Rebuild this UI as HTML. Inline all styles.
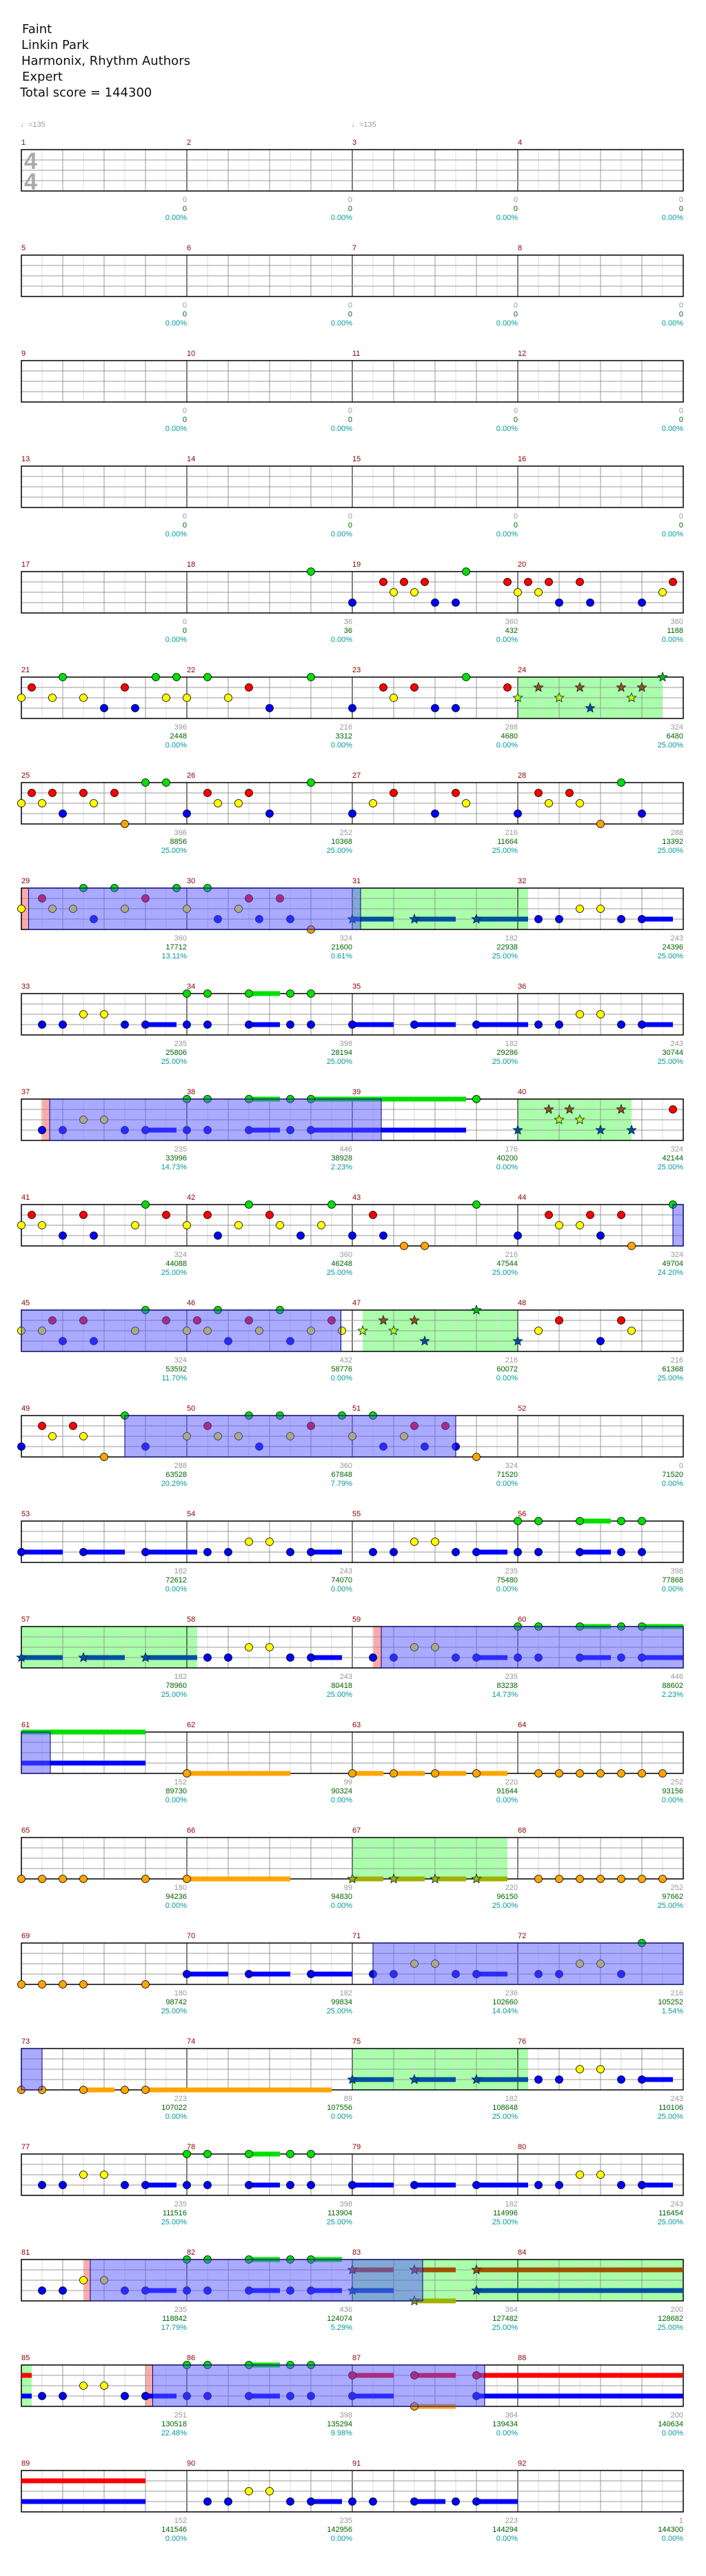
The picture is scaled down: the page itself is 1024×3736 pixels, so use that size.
<!DOCTYPE html>
<html><head><meta charset="utf-8"><style>
html,body{margin:0;padding:0;background:#fff}
svg{display:block}
text{font-family:"Liberation Sans",sans-serif}
.t{font-size:18px;fill:#111;font-family:"DejaVu Sans",sans-serif}
.m{font-size:11px;fill:#8b0000}
.a{font-size:11px;fill:#999;text-anchor:end}
.c{font-size:11px;fill:#006400;text-anchor:end}
.d{font-size:11px;fill:#009999;text-anchor:end}
.tp{font-size:11px;fill:#999}
</style></head><body>
<svg id="s" xmlns="http://www.w3.org/2000/svg" width="1024" height="3736" viewBox="0 0 1024 3736">
<rect width="1024" height="3736" fill="#fff"/>
<g id="shapes"></g>
<text class="t" x="32" y="48">Faint</text>
<text class="t" x="31" y="71">Linkin Park</text>
<text class="t" x="31" y="94">Harmonix, Rhythm Authors</text>
<text class="t" x="32" y="117">Expert</text>
<text class="t" x="29" y="140">Total score = 144300</text>
<text class="tp" x="30" y="184">♩=135</text>
<text class="tp" x="510" y="184">♩=135</text>
<text x="35" y="245" style="font-size:34px;font-weight:bold;fill:#aaa">4</text>
<text x="35" y="275" style="font-size:34px;font-weight:bold;fill:#aaa">4</text>
</svg>
<script>
(function(){
var NS="http://www.w3.org/2000/svg";
var G=document.getElementById('shapes');
function el(t,a,p){var e=document.createElementNS(NS,t);for(var k in a)e.setAttribute(k,a[k]);(p||G).appendChild(e);return e;}
var LANE={g:0,r:1,y:2,b:3,o:4};
var COL={g:'#00e000',r:'#ff0000',y:'#ffff00',b:'#0000ff',o:'#ffa500'};
var SCOL={g:'#00c000',r:'#a05000',y:'#c0ff00',b:'#0050a0',o:'#a0b000'};
var E="b1 b2 b5 b6-7.5 b8 b9 b11-12.5 b13 b14 b16-18 b19-21 b22-24.5 b25 b26 b29 b30-31.5 y3 y4 y27 y28 g8 g9 g11-12.5 g13 g14";
var R=[
["",""],["",""],["",""],["",""],
["","g14 g21.5 r17.5 r18.5 r19.5 r23.5 r24.5 r25.5 r27 r31.5 y18 y19 y24 y25 y31 b16 b20 b21 b26 b27.5 b30"],
["g24-31","g2 g6.5 g7.5 g9 g14 g21.5 *g31 r0.5 r5 r11 r17.5 r19 r23.5 *r25 *r27 *r29 *r30 y0 y1.5 y3 y7 y8 y10 y18 *y24 *y26 *y29.5 b4 b5.5 b12 b16 b20 b21 *b27.5"],
["","g6 g7 g14 g29 r0.5 r1.5 r3 r4.5 r9 r11 r18 r21 r25 r26.5 y0 y1 y3.5 y9.5 y10.5 y17 y21.5 y25.5 y27 b2 b8 b12 b16 b20 b24 b30 o5 o28"],
["p0-0.35 b0.35-16.4 g16-24.5","g3 g4.5 g7.5 g9 r1 r6 r11 r12.5 y0 y1.5 y2.5 y5 y8 y10.5 b3.5 b9.5 b11.5 b13 o14 *b16-18 *b19-21 *b22-24.5 b25 b26 b29 b30-31.5 y27 y28"],
["",E],
["p0.96-1.37 b1.37-17.4 g24-29.5","b1 b2 b5 b6-7.5 b8 b9 b11-12.5 b13 b14-21.5 y3 y4 g8 g9 g11-12.5 g13 g14-21.5 g22 *r25.5 *r26.5 *r29 *y26 *y27 *b24 *b28 *b29.5 r31.5"],
["b31.5-32","g6 g11 g15 g22 g31.5 r0.5 r3 r7 r9 r12 r17 r25.5 r27.5 r29 y0 y1 y5.5 y8 y10.5 y12.5 y14.5 y26 y27 b2 b3.5 b9.5 b13.5 b16 b17.5 b24 b28 o18.5 o19.5 o29.5"],
["b0-15.45 g16.5-24","g6 g9.5 g12.5 r1.5 r3 r7 r8.5 r11 r15 y0 y1 y5.5 y8 y9 y11.5 y14 y15.5 b2 b3.5 b10 b13 *y16.5 *y18 *r17.5 *r19 *b19.5 *b24 *g22 y25 y29.5 r26 r29 b28"],
["b5-21","g5 g11 g12.5 g15.5 g17 r1 r2.5 r9 r14 r19 r20.5 y1.5 y3 y8 y9.5 y10.5 y13 y16 y18.5 b0 b6 b11.5 b17.5 b19.5 b21 o4 o22"],
["","b0-2 b3-5 b6-8.5 b9 b10 b13 b14-15.5 b17 b18 b21 b22-23.5 b24 b25 b27-28.5 b29 b30 y11 y12 y19 y20 g24 g25 g27-28.5 g29 g30"],
["g0-8.5 p17-17.4 b17.4-32","*b0-2 *b3-5 *b6-8.5 b9 b10 b13 b14-15.5 y11 y12 b17 b18 b21 b22-23.5 b24 b25 b27-28.5 b29 b30-32 y19 y20 g24 g25 g27-28.5 g29 g30-32"],
["b0-1.4","~g0-6 ~b0-6 o8-13 o16-17.5 o18-19.5 o20-21.5 o22-23.5 o25 o26 o27 o28 o29 o30 o31"],
["g16-23.5","o0 o1 o2 o3 o6 o8-13 *o16-17.5 *o18-19.5 *o20-21.5 *o22-23.5 o25 o26 o27 o28 o29 o30 o31"],
["b17-32","o0 o1 o2 o3 o6 b8-10 b11-13 b14-16 b17 b18 b21 b22-23.5 b25 b26 b29 y19 y20 y27 y28 g30"],
["b0-1 g16-24.5","o0 o1 o3-4.5 o5 o6-15 *b16-18 *b19-21 *b22-24.5 b25 b26 b29 b30-31.5 y27 y28"],
["",E],
["p3-3.33 g16-32 b3.33-19.4","b1 b2 b5 b6-7.5 b8 b9 b11-12.5 b13 b14-15.5 y3 y4 g8 g9 g11-12.5 g13 g14-15.5 *r16-18 *r19-21 *r22-32 *b16-18 *b22-32 *o19-21"],
["g0-0.5 p6-6.35 b6.35-22.4","~r0-0.5 ~b0-0.5 b1 b2 b5 b6-7.5 b8 b9 b11-12.5 b13 b14 b16-18 b22-32 y3 y4 g8 g9 g11-12.5 g13 g14 r16-18 r19-21 r22-32 o19-21"],
["","~r0-6 ~b0-6 b9 b10 b13 b14-15.5 b16 b17 b19-20.5 b21 b22-24 y11 y12"]
];
function X(p){return 31+30*p;}
function star(cx,cy,fill){var pts=[];for(var i=0;i<10;i++){var r=i%2?3:7,a=-Math.PI/2+i*Math.PI/5;pts.push((cx+r*Math.cos(a)).toFixed(1)+','+(cy+r*Math.sin(a)).toFixed(1));}
el('polygon',{points:pts.join(' '),fill:fill,stroke:'#024',"stroke-width":0.8});}
for(var i=0;i<R.length;i++){
 var T=217+153*i;var ov=R[i][0]?R[i][0].split(' '):[];
 var blues=[];
 ov.forEach(function(o){var t=o[0],r=o.slice(1).split('-'),a=+r[0],b=+r[1];
  if(t=='b'){blues.push([a,b]);return;}
  el('rect',{x:X(a),y:T,width:30*(b-a),height:60,fill:t=='g'?'#aaffaa':'#ffaaaa'});});
 for(var e=1;e<32;e++){var c=e%8==0?'#000':(e%2==0?'#999':'#ddd');
  el('line',{x1:X(e),y1:T,x2:X(e),y2:T+60,stroke:c,"stroke-width":1});}
 for(var k=1;k<4;k++)el('line',{x1:31,y1:T+15*k,x2:991,y2:T+15*k,stroke:'#999',"stroke-width":1});
 el('rect',{x:31,y:T,width:960,height:60,fill:'none',stroke:'#000',"stroke-width":1.5});
 var ns=R[i][1]?R[i][1].split(' '):[];
 ns.forEach(function(n){var st=n[0]=='*',nh=n[0]=='~';if(st||nh)n=n.slice(1);var l=n[0],r=n.slice(1).split('-');
  if(r.length>1){var y=T+15*LANE[l];el('rect',{x:X(+r[0]),y:y-3.5,width:30*(r[1]-r[0]),height:7,fill:st?SCOL[l]:COL[l]});}});
 ns.forEach(function(n){var st=n[0]=='*',nh=n[0]=='~';if(nh)return;if(st)n=n.slice(1);var l=n[0],r=n.slice(1).split('-');
  var cx=X(+r[0]),cy=T+15*LANE[l];
  if(st)star(cx,cy,SCOL[l]);else el('circle',{cx:cx,cy:cy,r:5.5,fill:COL[l],stroke:'#000',"stroke-width":0.8});});
 blues.forEach(function(bb){el('rect',{x:X(bb[0]),y:T,width:30*(bb[1]-bb[0]),height:60,fill:'rgba(85,85,255,0.5)',stroke:'#000080',"stroke-width":1});});
}
})();
</script>
<svg xmlns="http://www.w3.org/2000/svg" width="1024" height="3736" style="position:absolute;left:0;top:0">
<g transform="translate(0,217)"><text class="m" x="31" y="-7">1</text><text class="m" x="271" y="-7">2</text><text class="m" x="511" y="-7">3</text><text class="m" x="751" y="-7">4</text>
<text class="a" x="271" y="76">0</text><text class="c" x="271" y="89">0</text><text class="d" x="271" y="102">0.00%</text><text class="a" x="511" y="76">0</text><text class="c" x="511" y="89">0</text><text class="d" x="511" y="102">0.00%</text><text class="a" x="751" y="76">0</text><text class="c" x="751" y="89">0</text><text class="d" x="751" y="102">0.00%</text><text class="a" x="991" y="76">0</text><text class="c" x="991" y="89">0</text><text class="d" x="991" y="102">0.00%</text></g>
<g transform="translate(0,370)"><text class="m" x="31" y="-7">5</text><text class="m" x="271" y="-7">6</text><text class="m" x="511" y="-7">7</text><text class="m" x="751" y="-7">8</text>
<text class="a" x="271" y="76">0</text><text class="c" x="271" y="89">0</text><text class="d" x="271" y="102">0.00%</text><text class="a" x="511" y="76">0</text><text class="c" x="511" y="89">0</text><text class="d" x="511" y="102">0.00%</text><text class="a" x="751" y="76">0</text><text class="c" x="751" y="89">0</text><text class="d" x="751" y="102">0.00%</text><text class="a" x="991" y="76">0</text><text class="c" x="991" y="89">0</text><text class="d" x="991" y="102">0.00%</text></g>
<g transform="translate(0,523)"><text class="m" x="31" y="-7">9</text><text class="m" x="271" y="-7">10</text><text class="m" x="511" y="-7">11</text><text class="m" x="751" y="-7">12</text>
<text class="a" x="271" y="76">0</text><text class="c" x="271" y="89">0</text><text class="d" x="271" y="102">0.00%</text><text class="a" x="511" y="76">0</text><text class="c" x="511" y="89">0</text><text class="d" x="511" y="102">0.00%</text><text class="a" x="751" y="76">0</text><text class="c" x="751" y="89">0</text><text class="d" x="751" y="102">0.00%</text><text class="a" x="991" y="76">0</text><text class="c" x="991" y="89">0</text><text class="d" x="991" y="102">0.00%</text></g>
<g transform="translate(0,676)"><text class="m" x="31" y="-7">13</text><text class="m" x="271" y="-7">14</text><text class="m" x="511" y="-7">15</text><text class="m" x="751" y="-7">16</text>
<text class="a" x="271" y="76">0</text><text class="c" x="271" y="89">0</text><text class="d" x="271" y="102">0.00%</text><text class="a" x="511" y="76">0</text><text class="c" x="511" y="89">0</text><text class="d" x="511" y="102">0.00%</text><text class="a" x="751" y="76">0</text><text class="c" x="751" y="89">0</text><text class="d" x="751" y="102">0.00%</text><text class="a" x="991" y="76">0</text><text class="c" x="991" y="89">0</text><text class="d" x="991" y="102">0.00%</text></g>
<g transform="translate(0,829)"><text class="m" x="31" y="-7">17</text><text class="m" x="271" y="-7">18</text><text class="m" x="511" y="-7">19</text><text class="m" x="751" y="-7">20</text>
<text class="a" x="271" y="76">0</text><text class="c" x="271" y="89">0</text><text class="d" x="271" y="102">0.00%</text><text class="a" x="511" y="76">36</text><text class="c" x="511" y="89">36</text><text class="d" x="511" y="102">0.00%</text><text class="a" x="751" y="76">360</text><text class="c" x="751" y="89">432</text><text class="d" x="751" y="102">0.00%</text><text class="a" x="991" y="76">360</text><text class="c" x="991" y="89">1188</text><text class="d" x="991" y="102">0.00%</text></g>
<g transform="translate(0,982)"><text class="m" x="31" y="-7">21</text><text class="m" x="271" y="-7">22</text><text class="m" x="511" y="-7">23</text><text class="m" x="751" y="-7">24</text>
<text class="a" x="271" y="76">396</text><text class="c" x="271" y="89">2448</text><text class="d" x="271" y="102">0.00%</text><text class="a" x="511" y="76">216</text><text class="c" x="511" y="89">3312</text><text class="d" x="511" y="102">0.00%</text><text class="a" x="751" y="76">288</text><text class="c" x="751" y="89">4680</text><text class="d" x="751" y="102">0.00%</text><text class="a" x="991" y="76">324</text><text class="c" x="991" y="89">6480</text><text class="d" x="991" y="102">25.00%</text></g>
<g transform="translate(0,1135)"><text class="m" x="31" y="-7">25</text><text class="m" x="271" y="-7">26</text><text class="m" x="511" y="-7">27</text><text class="m" x="751" y="-7">28</text>
<text class="a" x="271" y="76">396</text><text class="c" x="271" y="89">8856</text><text class="d" x="271" y="102">25.00%</text><text class="a" x="511" y="76">252</text><text class="c" x="511" y="89">10368</text><text class="d" x="511" y="102">25.00%</text><text class="a" x="751" y="76">216</text><text class="c" x="751" y="89">11664</text><text class="d" x="751" y="102">25.00%</text><text class="a" x="991" y="76">288</text><text class="c" x="991" y="89">13392</text><text class="d" x="991" y="102">25.00%</text></g>
<g transform="translate(0,1288)"><text class="m" x="31" y="-7">29</text><text class="m" x="271" y="-7">30</text><text class="m" x="511" y="-7">31</text><text class="m" x="751" y="-7">32</text>
<text class="a" x="271" y="76">360</text><text class="c" x="271" y="89">17712</text><text class="d" x="271" y="102">13.11%</text><text class="a" x="511" y="76">324</text><text class="c" x="511" y="89">21600</text><text class="d" x="511" y="102">0.61%</text><text class="a" x="751" y="76">182</text><text class="c" x="751" y="89">22938</text><text class="d" x="751" y="102">25.00%</text><text class="a" x="991" y="76">243</text><text class="c" x="991" y="89">24396</text><text class="d" x="991" y="102">25.00%</text></g>
<g transform="translate(0,1441)"><text class="m" x="31" y="-7">33</text><text class="m" x="271" y="-7">34</text><text class="m" x="511" y="-7">35</text><text class="m" x="751" y="-7">36</text>
<text class="a" x="271" y="76">235</text><text class="c" x="271" y="89">25806</text><text class="d" x="271" y="102">25.00%</text><text class="a" x="511" y="76">398</text><text class="c" x="511" y="89">28194</text><text class="d" x="511" y="102">25.00%</text><text class="a" x="751" y="76">182</text><text class="c" x="751" y="89">29286</text><text class="d" x="751" y="102">25.00%</text><text class="a" x="991" y="76">243</text><text class="c" x="991" y="89">30744</text><text class="d" x="991" y="102">25.00%</text></g>
<g transform="translate(0,1594)"><text class="m" x="31" y="-7">37</text><text class="m" x="271" y="-7">38</text><text class="m" x="511" y="-7">39</text><text class="m" x="751" y="-7">40</text>
<text class="a" x="271" y="76">235</text><text class="c" x="271" y="89">33996</text><text class="d" x="271" y="102">14.73%</text><text class="a" x="511" y="76">446</text><text class="c" x="511" y="89">38928</text><text class="d" x="511" y="102">2.23%</text><text class="a" x="751" y="76">176</text><text class="c" x="751" y="89">40200</text><text class="d" x="751" y="102">0.00%</text><text class="a" x="991" y="76">324</text><text class="c" x="991" y="89">42144</text><text class="d" x="991" y="102">25.00%</text></g>
<g transform="translate(0,1747)"><text class="m" x="31" y="-7">41</text><text class="m" x="271" y="-7">42</text><text class="m" x="511" y="-7">43</text><text class="m" x="751" y="-7">44</text>
<text class="a" x="271" y="76">324</text><text class="c" x="271" y="89">44088</text><text class="d" x="271" y="102">25.00%</text><text class="a" x="511" y="76">360</text><text class="c" x="511" y="89">46248</text><text class="d" x="511" y="102">25.00%</text><text class="a" x="751" y="76">216</text><text class="c" x="751" y="89">47544</text><text class="d" x="751" y="102">25.00%</text><text class="a" x="991" y="76">324</text><text class="c" x="991" y="89">49704</text><text class="d" x="991" y="102">24.20%</text></g>
<g transform="translate(0,1900)"><text class="m" x="31" y="-7">45</text><text class="m" x="271" y="-7">46</text><text class="m" x="511" y="-7">47</text><text class="m" x="751" y="-7">48</text>
<text class="a" x="271" y="76">324</text><text class="c" x="271" y="89">53592</text><text class="d" x="271" y="102">11.70%</text><text class="a" x="511" y="76">432</text><text class="c" x="511" y="89">58776</text><text class="d" x="511" y="102">0.00%</text><text class="a" x="751" y="76">216</text><text class="c" x="751" y="89">60072</text><text class="d" x="751" y="102">0.00%</text><text class="a" x="991" y="76">216</text><text class="c" x="991" y="89">61368</text><text class="d" x="991" y="102">25.00%</text></g>
<g transform="translate(0,2053)"><text class="m" x="31" y="-7">49</text><text class="m" x="271" y="-7">50</text><text class="m" x="511" y="-7">51</text><text class="m" x="751" y="-7">52</text>
<text class="a" x="271" y="76">288</text><text class="c" x="271" y="89">63528</text><text class="d" x="271" y="102">20.29%</text><text class="a" x="511" y="76">360</text><text class="c" x="511" y="89">67848</text><text class="d" x="511" y="102">7.79%</text><text class="a" x="751" y="76">324</text><text class="c" x="751" y="89">71520</text><text class="d" x="751" y="102">0.00%</text><text class="a" x="991" y="76">0</text><text class="c" x="991" y="89">71520</text><text class="d" x="991" y="102">0.00%</text></g>
<g transform="translate(0,2206)"><text class="m" x="31" y="-7">53</text><text class="m" x="271" y="-7">54</text><text class="m" x="511" y="-7">55</text><text class="m" x="751" y="-7">56</text>
<text class="a" x="271" y="76">182</text><text class="c" x="271" y="89">72612</text><text class="d" x="271" y="102">0.00%</text><text class="a" x="511" y="76">243</text><text class="c" x="511" y="89">74070</text><text class="d" x="511" y="102">0.00%</text><text class="a" x="751" y="76">235</text><text class="c" x="751" y="89">75480</text><text class="d" x="751" y="102">0.00%</text><text class="a" x="991" y="76">398</text><text class="c" x="991" y="89">77868</text><text class="d" x="991" y="102">0.00%</text></g>
<g transform="translate(0,2359)"><text class="m" x="31" y="-7">57</text><text class="m" x="271" y="-7">58</text><text class="m" x="511" y="-7">59</text><text class="m" x="751" y="-7">60</text>
<text class="a" x="271" y="76">182</text><text class="c" x="271" y="89">78960</text><text class="d" x="271" y="102">25.00%</text><text class="a" x="511" y="76">243</text><text class="c" x="511" y="89">80418</text><text class="d" x="511" y="102">25.00%</text><text class="a" x="751" y="76">235</text><text class="c" x="751" y="89">83238</text><text class="d" x="751" y="102">14.73%</text><text class="a" x="991" y="76">446</text><text class="c" x="991" y="89">88602</text><text class="d" x="991" y="102">2.23%</text></g>
<g transform="translate(0,2512)"><text class="m" x="31" y="-7">61</text><text class="m" x="271" y="-7">62</text><text class="m" x="511" y="-7">63</text><text class="m" x="751" y="-7">64</text>
<text class="a" x="271" y="76">152</text><text class="c" x="271" y="89">89730</text><text class="d" x="271" y="102">0.00%</text><text class="a" x="511" y="76">99</text><text class="c" x="511" y="89">90324</text><text class="d" x="511" y="102">0.00%</text><text class="a" x="751" y="76">220</text><text class="c" x="751" y="89">91644</text><text class="d" x="751" y="102">0.00%</text><text class="a" x="991" y="76">252</text><text class="c" x="991" y="89">93156</text><text class="d" x="991" y="102">0.00%</text></g>
<g transform="translate(0,2665)"><text class="m" x="31" y="-7">65</text><text class="m" x="271" y="-7">66</text><text class="m" x="511" y="-7">67</text><text class="m" x="751" y="-7">68</text>
<text class="a" x="271" y="76">180</text><text class="c" x="271" y="89">94236</text><text class="d" x="271" y="102">0.00%</text><text class="a" x="511" y="76">99</text><text class="c" x="511" y="89">94830</text><text class="d" x="511" y="102">0.00%</text><text class="a" x="751" y="76">220</text><text class="c" x="751" y="89">96150</text><text class="d" x="751" y="102">25.00%</text><text class="a" x="991" y="76">252</text><text class="c" x="991" y="89">97662</text><text class="d" x="991" y="102">25.00%</text></g>
<g transform="translate(0,2818)"><text class="m" x="31" y="-7">69</text><text class="m" x="271" y="-7">70</text><text class="m" x="511" y="-7">71</text><text class="m" x="751" y="-7">72</text>
<text class="a" x="271" y="76">180</text><text class="c" x="271" y="89">98742</text><text class="d" x="271" y="102">25.00%</text><text class="a" x="511" y="76">182</text><text class="c" x="511" y="89">99834</text><text class="d" x="511" y="102">25.00%</text><text class="a" x="751" y="76">236</text><text class="c" x="751" y="89">102660</text><text class="d" x="751" y="102">14.04%</text><text class="a" x="991" y="76">216</text><text class="c" x="991" y="89">105252</text><text class="d" x="991" y="102">1.54%</text></g>
<g transform="translate(0,2971)"><text class="m" x="31" y="-7">73</text><text class="m" x="271" y="-7">74</text><text class="m" x="511" y="-7">75</text><text class="m" x="751" y="-7">76</text>
<text class="a" x="271" y="76">223</text><text class="c" x="271" y="89">107022</text><text class="d" x="271" y="102">0.00%</text><text class="a" x="511" y="76">89</text><text class="c" x="511" y="89">107556</text><text class="d" x="511" y="102">0.00%</text><text class="a" x="751" y="76">182</text><text class="c" x="751" y="89">108648</text><text class="d" x="751" y="102">25.00%</text><text class="a" x="991" y="76">243</text><text class="c" x="991" y="89">110106</text><text class="d" x="991" y="102">25.00%</text></g>
<g transform="translate(0,3124)"><text class="m" x="31" y="-7">77</text><text class="m" x="271" y="-7">78</text><text class="m" x="511" y="-7">79</text><text class="m" x="751" y="-7">80</text>
<text class="a" x="271" y="76">235</text><text class="c" x="271" y="89">111516</text><text class="d" x="271" y="102">25.00%</text><text class="a" x="511" y="76">398</text><text class="c" x="511" y="89">113904</text><text class="d" x="511" y="102">25.00%</text><text class="a" x="751" y="76">182</text><text class="c" x="751" y="89">114996</text><text class="d" x="751" y="102">25.00%</text><text class="a" x="991" y="76">243</text><text class="c" x="991" y="89">116454</text><text class="d" x="991" y="102">25.00%</text></g>
<g transform="translate(0,3277)"><text class="m" x="31" y="-7">81</text><text class="m" x="271" y="-7">82</text><text class="m" x="511" y="-7">83</text><text class="m" x="751" y="-7">84</text>
<text class="a" x="271" y="76">235</text><text class="c" x="271" y="89">118842</text><text class="d" x="271" y="102">17.79%</text><text class="a" x="511" y="76">436</text><text class="c" x="511" y="89">124074</text><text class="d" x="511" y="102">5.29%</text><text class="a" x="751" y="76">364</text><text class="c" x="751" y="89">127482</text><text class="d" x="751" y="102">25.00%</text><text class="a" x="991" y="76">200</text><text class="c" x="991" y="89">128682</text><text class="d" x="991" y="102">25.00%</text></g>
<g transform="translate(0,3430)"><text class="m" x="31" y="-7">85</text><text class="m" x="271" y="-7">86</text><text class="m" x="511" y="-7">87</text><text class="m" x="751" y="-7">88</text>
<text class="a" x="271" y="76">251</text><text class="c" x="271" y="89">130518</text><text class="d" x="271" y="102">22.48%</text><text class="a" x="511" y="76">398</text><text class="c" x="511" y="89">135294</text><text class="d" x="511" y="102">9.98%</text><text class="a" x="751" y="76">364</text><text class="c" x="751" y="89">139434</text><text class="d" x="751" y="102">0.00%</text><text class="a" x="991" y="76">200</text><text class="c" x="991" y="89">140634</text><text class="d" x="991" y="102">0.00%</text></g>
<g transform="translate(0,3583)"><text class="m" x="31" y="-7">89</text><text class="m" x="271" y="-7">90</text><text class="m" x="511" y="-7">91</text><text class="m" x="751" y="-7">92</text>
<text class="a" x="271" y="76">152</text><text class="c" x="271" y="89">141546</text><text class="d" x="271" y="102">0.00%</text><text class="a" x="511" y="76">235</text><text class="c" x="511" y="89">142956</text><text class="d" x="511" y="102">0.00%</text><text class="a" x="751" y="76">223</text><text class="c" x="751" y="89">144294</text><text class="d" x="751" y="102">0.00%</text><text class="a" x="991" y="76">1</text><text class="c" x="991" y="89">144300</text><text class="d" x="991" y="102">0.00%</text></g>
</svg>
</body></html>
